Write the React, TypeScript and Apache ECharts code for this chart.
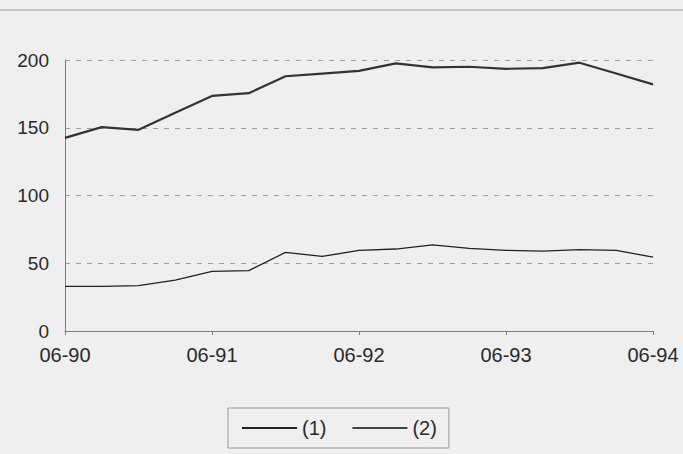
import React, { useEffect, useRef } from "react";
import * as echarts from "echarts";

const categories = [
  "06-90", "09-90", "12-90", "03-91",
  "06-91", "09-91", "12-91", "03-92",
  "06-92", "09-92", "12-92", "03-93",
  "06-93", "09-93", "12-93", "03-94",
  "06-94",
];
const series1 = [33, 33, 33.5, 37.5, 44, 44.5, 58, 55, 59.5, 60.5, 63.5, 61, 59.5, 59, 60, 59.5, 54.5];
const series2 = [142.5, 150.5, 148.5, 161, 173.5, 175.5, 188, 190, 192, 197.5, 194.5, 195, 193.5, 194, 198, 190, 182];
const seriesNames = ["(1)", "(2)"];
const yTicks = { min: 0, max: 200, interval: 50 };

export default function App() {
  const ref = useRef<HTMLDivElement>(null);
  useEffect(() => {
    if (!ref.current) return;
    const chart = echarts.init(ref.current, null, { renderer: "svg" });
    const font = "Liberation Sans, Arial, sans-serif";
    chart.setOption({
      animation: false,
      backgroundColor: "#efefef",
      textStyle: { fontFamily: font },
      graphic: [
        {
          type: "line",
          shape: { x1: 0, y1: 10, x2: 683, y2: 10 },
          style: { stroke: "#9a9a9a", lineWidth: 1 },
        },
      ],
      grid: { left: 65, right: 30, top: 60, bottom: 123 },
      xAxis: {
        type: "category",
        data: categories,
        boundaryGap: false,
        axisLine: { show: true, lineStyle: { color: "#808080", width: 1 } },
        axisTick: { show: true, interval: 3, length: 4, inside: false, lineStyle: { color: "#808080" } },
        axisLabel: { interval: 3, color: "#2a2a2a", fontSize: 20, margin: 14, fontFamily: font },
        splitLine: { show: false },
      },
      yAxis: {
        type: "value",
        min: yTicks.min,
        max: yTicks.max,
        interval: yTicks.interval,
        axisLine: { show: true, lineStyle: { color: "#808080", width: 1 } },
        axisTick: { show: false },
        axisLabel: { color: "#2a2a2a", fontSize: 19, margin: 16, fontFamily: font },
        splitLine: { show: true, lineStyle: { color: "#a0a0a0", type: [5, 6], width: 1 } },
      },
      legend: {
        bottom: 6,
        left: 228,
        itemWidth: 55,
        itemHeight: 2,
        itemGap: 26,
        padding: [10, 12, 10, 14],
        borderColor: "#999",
        borderWidth: 1,
        textStyle: { color: "#2a2a2a", fontSize: 20, fontFamily: font },
        data: [
          { name: seriesNames[0], icon: "rect", itemStyle: { color: "#222" } },
          { name: seriesNames[1], icon: "rect", itemStyle: { color: "#444" } },
        ],
      },
      series: [
        {
          name: seriesNames[0],
          type: "line",
          data: series1,
          symbol: "none",
          lineStyle: { color: "#222", width: 1.3 },
          itemStyle: { color: "#222" },
        },
        {
          name: seriesNames[1],
          type: "line",
          data: series2,
          symbol: "none",
          lineStyle: { color: "#333", width: 2.2 },
          itemStyle: { color: "#444" },
        },
      ],
    });
    return () => chart.dispose();
  }, []);
  return <div ref={ref} style={{ position: "fixed", left: 0, top: 0, width: 683, height: 454 }} />;
}
